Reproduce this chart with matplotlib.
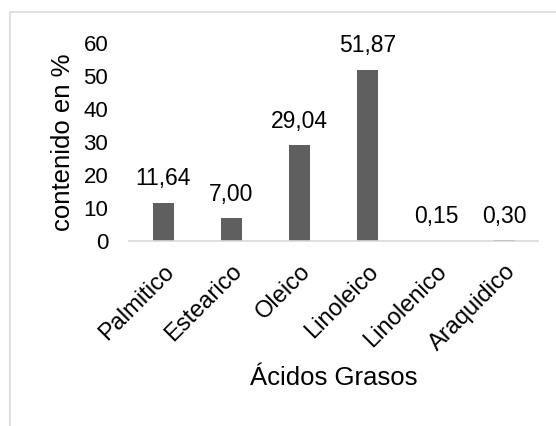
import matplotlib.pyplot as plt
from matplotlib.patches import Rectangle

plt.rcParams['font.family'] = ['Liberation Sans', 'DejaVu Sans']

acidos = ['Palmitico', 'Estearico', 'Oleico', 'Linoleico', 'Linolenico', 'Araquidico']
contenido = [11.64, 7.00, 29.04, 51.87, 0.15, 0.30]
yticks = [0, 10, 20, 30, 40, 50, 60]

fig = plt.figure(figsize=(5.56, 4.26), dpi=100)
ax = fig.add_axes([0.232, 0.434, 0.736, 0.465])

# light chart border
fig.patches.append(Rectangle((10 / 556, -0.1), 1.2, 1 - 12 / 426 + 0.1,
                             transform=fig.transFigure, fill=False,
                             edgecolor='#d9d9d9', linewidth=1.2))

x = range(len(acidos))
bars = ax.bar(x, contenido, width=0.31, color='#5f5f5f')

for xi, v in zip(x, contenido):
    ax.annotate(f'{v:.2f}'.replace('.', ','), (xi, v), xytext=(0, 9),
                textcoords='offset points', ha='center', va='bottom',
                fontsize=16.5, color='#000000')

ax.set_xlim(-0.5, len(acidos) - 0.5)
ax.set_ylim(0, 60)
ax.set_yticks(yticks)
ax.set_xticks(list(x))
ax.set_xticklabels(acidos, rotation=45, ha='right', rotation_mode='anchor')

for s in ['top', 'right', 'left']:
    ax.spines[s].set_visible(False)
ax.spines['bottom'].set_color('#d9d9d9')
ax.spines['bottom'].set_linewidth(1.2)

ax.tick_params(axis='y', length=0, pad=15, labelsize=16)
ax.tick_params(axis='x', length=0, pad=14, labelsize=17)

ax.set_ylabel('contenido en %', fontsize=18.5, labelpad=6)
ax.set_xlabel('Ácidos Grasos', fontsize=18.5, labelpad=8)

fig.savefig('out.png', dpi=100)
